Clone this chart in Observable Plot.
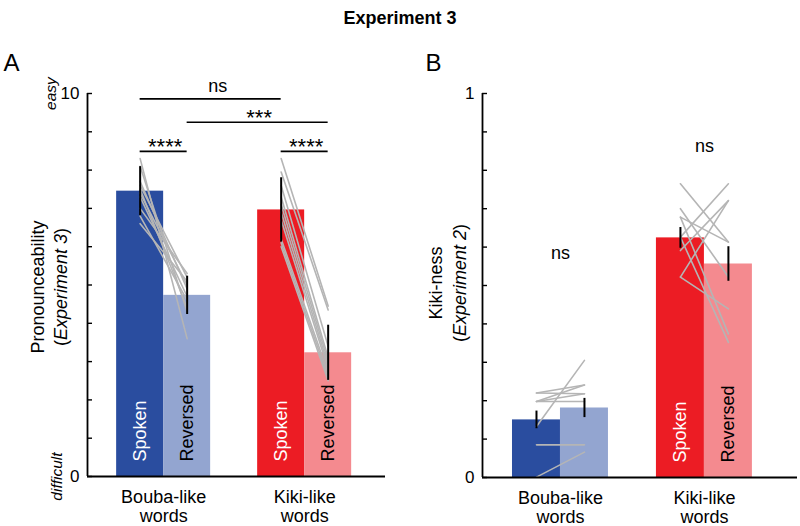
<!DOCTYPE html>
<html><head><meta charset="utf-8">
<script src="https://cdn.jsdelivr.net/npm/d3@7"></script>
<script src="https://cdn.jsdelivr.net/npm/@observablehq/plot@0.6"></script>
<style>
body{margin:0;background:#fff;}
#wrap{position:relative;width:800px;height:526px;overflow:hidden;font-family:"Liberation Sans",Arial,Helvetica,sans-serif;color:#000;}
#title{height:36px;line-height:36px;text-align:center;font-weight:bold;font-size:18px;}
#row{display:flex;}
.ytitle{position:absolute;transform:translate(-50%,-50%) rotate(-90deg);white-space:nowrap;text-align:center;font-size:18px;}
g[aria-label="sig-stars"] text{letter-spacing:3px;}
</style></head><body>
<div id="wrap">
  <div id="title">Experiment 3</div>
  <div id="row"></div>
  <div class="ytitle" style="left:50px;top:287px;line-height:23px">Pronounceability<br>(<i>Experiment 3</i>)</div>
  <div class="ytitle" style="left:448px;top:283px;line-height:24px">Kiki-ness<br>(<i>Experiment 2</i>)</div>
</div>
<script>
// ---- categories ----
const groupNames = ["Bouba-like\nwords", "Kiki-like\nwords"];
const conditions = ["Spoken", "Reversed"];
const boubaColors = ["#2a4d9f", "#93a5d0"];
const kikiColors = ["#ec1c24", "#f48a8f"];
const lineColor = "#b5b5b5";

// ---- Panel A: pronounceability (Experiment 3) ----
const pronMeanBouba = [7.45, 4.73];
const pronMeanKiki = [6.96, 3.23];
const pronSemBouba = [0.64, 0.50];
const pronSemKiki = [0.84, 0.72];
const pronBoubaSpoken = [8.3, 8.1, 7.7, 7.6, 7.5, 7.4, 7.3, 7.0, 6.8, 6.6];
const pronBoubaReversed = [3.6, 4.3, 4.9, 5.2, 4.4, 5.0, 4.7, 5.3, 4.6, 5.1];
const pronKikiSpoken = [8.3, 7.95, 7.6, 7.3, 7.1, 6.9, 6.7, 6.2, 6.1, 6.0];
const pronKikiReversed = [4.45, 4.35, 3.4, 3.1, 3.0, 2.9, 2.8, 2.7, 2.6, 2.5];
const pronTickLabels = [0, 10];
const pronEndLabels = ["difficult", "easy"];
const sigLabelsA = ["ns", "***", "****", "****"];
const sigFromA = [[0, 0], [0, 1], [0, 0], [1, 0]];
const sigToA = [[1, 0], [1, 1], [0, 1], [1, 1]];
const sigLevelA = [9.86, 9.25, 8.49, 8.49];

// ---- Panel B: kiki-ness (Experiment 2) ----
const kikiMeanBouba = [0.150, 0.181];
const kikiMeanKiki = [0.624, 0.556];
const kikiSemBouba = [0.023, 0.025];
const kikiSemKiki = [0.027, 0.045];
const kikiBoubaSpoken = [0.220, 0.220, 0.198, 0.198, 0.133, 0.085, 0.001, 0.198];
const kikiBoubaReversed = [0.241, 0.218, 0.218, 0.198, 0.305, 0.085, 0.066, 0.241];
const kikiKikiSpoken = [0.765, 0.700, 0.678, 0.678, 0.626, 0.591, 0.522, 0.522, 0.626];
const kikiKikiReversed = [0.613, 0.522, 0.613, 0.374, 0.765, 0.721, 0.439, 0.721, 0.352];
const kikiTickLabels = [0, 1];
const nsLevelsB = [0.583, 0.862];

// ---- helpers ----
const slot = (g, c) => g * 3 + c;          // left edge of a bar (index based)
function barRows(means, sems, colors, g, labelled) {
  return conditions.map((c, i) => ({g, c: i, x: slot(g, i), value: means[i], sem: sems[i], color: colors[i],
    label: labelled ? c : null}));
}
function itemRows(spoken, reversed, g, prefix) {
  const rows = [];
  spoken.forEach((v, k) => {
    rows.push({id: prefix + k, x: slot(g, 0) + 0.5, y: v});
    rows.push({id: prefix + k, x: slot(g, 1) + 0.5, y: reversed[k]});
  });
  return rows;
}

function panel({width, height, marginLeft, marginRight, marginTop, marginBottom, xDomain, yMax, tickStep,
                tickLabels, bars, items, extra}) {
  const xMin = xDomain[0];
  const ticks = d3.range(0, yMax + tickStep / 2, tickStep);
  const labelled = bars.filter(d => d.label);
  return Plot.plot({
    width, height, marginLeft, marginRight, marginTop, marginBottom,
    style: {fontFamily: '"Liberation Sans", Arial, Helvetica, sans-serif', background: "white", overflow: "visible"},
    x: {domain: xDomain, axis: null},
    y: {domain: [0, yMax], axis: null},
    color: {type: "identity"},
    marks: [
      Plot.rect(bars, {x1: "x", x2: d => d.x + 1, y1: () => 0, y2: "value", fill: "color"}),
      Plot.line(items, {x: "x", y: "y", z: "id", stroke: lineColor, strokeWidth: 1.6}),
      Plot.ruleX(bars, {x: d => d.x + 0.5, y1: d => d.value - d.sem, y2: d => d.value + d.sem, stroke: "black", strokeWidth: 2}),
      Plot.text(labelled, {x: d => d.x + 0.5, y: () => 0, text: "label", rotate: -90, textAnchor: "start",
        dy: -15, fontSize: 18, fill: d => d.c === 0 ? "white" : "black"}),
      // axes
      Plot.ruleY([0], {stroke: "black", strokeWidth: 1.8}),
      Plot.ruleX([xMin], {x: d => d, y1: () => 0, y2: () => yMax, stroke: "black", strokeWidth: 1.8}),
      Plot.ruleY(ticks, {y: d => d, x1: () => xMin, x2: () => xMin, insetRight: -5, stroke: "black", strokeWidth: 1.4}),
      Plot.text(tickLabels, {y: d => d, frameAnchor: "left", text: d => String(d), textAnchor: "end", dx: -8, fontSize: 17}),
      Plot.text([0, 1], {x: g => slot(g, 1), frameAnchor: "bottom", text: g => groupNames[g], lineAnchor: "top",
        dy: 12, fontSize: 18, lineHeight: 1.1}),
      ...extra
    ]
  });
}

// ---- Panel A ----
const barsA = [
  ...barRows(pronMeanBouba, pronSemBouba, boubaColors, 0, true),
  ...barRows(pronMeanKiki, pronSemKiki, kikiColors, 1, true)
];
const itemsA = [
  ...itemRows(pronBoubaSpoken, pronBoubaReversed, 0, "b"),
  ...itemRows(pronKikiSpoken, pronKikiReversed, 1, "k")
];
const sigA = sigLabelsA.map((label, i) => ({
  label, level: sigLevelA[i],
  x1: slot(...sigFromA[i]) + 0.5, x2: slot(...sigToA[i]) + 0.5
}));
const xDomainA = [-0.62, 5.72];
const plotA = panel({
  width: 400, height: 490, marginLeft: 87, marginRight: 15, marginTop: 57, marginBottom: 50,
  xDomain: xDomainA, yMax: 10, tickStep: 1, tickLabels: pronTickLabels,
  bars: barsA, items: itemsA,
  extra: [
    Plot.ruleY(sigA, {y: "level", x1: "x1", x2: "x2", stroke: "black", strokeWidth: 1.6}),
    Plot.text(sigA.filter(d => d.label === "ns"), {x: d => (d.x1 + d.x2) / 2 + 0.15, y: "level", text: "label",
      lineAnchor: "bottom", dy: -7, fontSize: 18}),
    Plot.text(sigA.filter(d => d.label !== "ns"), {x: d => (d.x1 + d.x2) / 2, y: "level", text: "label",
      lineAnchor: "bottom", dy: 3, dx: 1.5, fontSize: 22, ariaLabel: "sig-stars"}),
    Plot.text([pronEndLabels[1]], {x: () => xDomainA[0], y: () => pronTickLabels[1], text: d => d, rotate: -90,
      textAnchor: "middle", lineAnchor: "middle", dx: -36, fontSize: 15.5, fontStyle: "italic"}),
    Plot.text([pronEndLabels[0]], {x: () => xDomainA[0], y: () => pronTickLabels[0], text: d => d, rotate: -90,
      textAnchor: "middle", lineAnchor: "middle", dx: -30, fontSize: 15.5, fontStyle: "italic"}),
    Plot.text(["A"], {frameAnchor: "top-left", text: d => d, textAnchor: "start", lineAnchor: "top", dx: -84, dy: -40, fontSize: 24})
  ]
});

// ---- Panel B ----
const barsB = [
  ...barRows(kikiMeanBouba, kikiSemBouba, boubaColors, 0, false),
  ...barRows(kikiMeanKiki, kikiSemKiki, kikiColors, 1, true)
];
const itemsB = [
  ...itemRows(kikiBoubaSpoken, kikiBoubaReversed, 0, "b"),
  ...itemRows(kikiKikiSpoken, kikiKikiReversed, 1, "k")
];
const nsB = nsLevelsB.map((level, g) => ({g, level}));
const plotB = panel({
  width: 400, height: 490, marginLeft: 82, marginRight: 3, marginTop: 57, marginBottom: 49,
  xDomain: [-0.625, 5.94], yMax: 1, tickStep: 0.1, tickLabels: kikiTickLabels,
  bars: barsB, items: itemsB,
  extra: [
    Plot.text(nsB, {x: d => slot(d.g, 1), y: "level", text: () => "ns", fontSize: 18}),
    Plot.text(["B"], {frameAnchor: "top-left", text: d => d, textAnchor: "start", lineAnchor: "top", dx: -57, dy: -40, fontSize: 24})
  ]
});

const row = document.getElementById("row");
row.appendChild(plotA);
row.appendChild(plotB);
</script>
</body></html>
